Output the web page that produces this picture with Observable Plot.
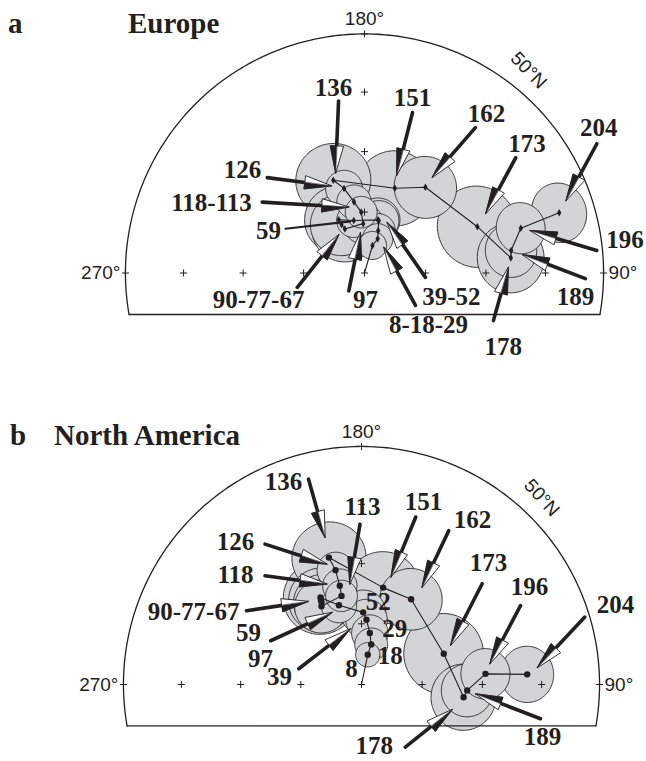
<!DOCTYPE html>
<html><head><meta charset="utf-8">
<script src="https://cdn.jsdelivr.net/npm/d3@7"></script>
<script src="https://cdn.jsdelivr.net/npm/@observablehq/plot@0.6"></script>
<style>
html,body{margin:0;padding:0;background:#fff;}
.panel{position:relative;width:646px;}
.panel svg{display:block;}
.ttl{position:absolute;font-family:"Liberation Serif","Times New Roman",serif;font-weight:bold;font-size:29px;line-height:29px;color:#231f20;white-space:nowrap;z-index:2;}
</style></head><body>
<div class="panel" id="pa"></div>
<div class="panel" id="pb"></div>
<script>
// Pole ages (Ma)
const ages = [0, 8, 18, 29, 39, 52, 59, 67, 77, 90, 97, 113, 118, 126, 136, 151, 162, 173, 178, 189, 196, 204];

// Europe: pole longitude (°E), latitude (°N), A95 (°)
const europeLon = [0, 163.8, 158.9, 162.1, 164.8, 165.8, 191.5, 205.8, 205.4, 204.0, 181.5, 183.1, 188.4, 193.6, 198.6, 160.3, 144.6, 112.3, 95.9, 98.7, 106.0, 107.2];
const europeLat = [90, 85.3, 84.0, 82.7, 81.1, 81.0, 81.2, 80.3, 81.2, 82.1, 81.9, 80.0, 78.2, 75.7, 73.9, 75.2, 72.7, 69.9, 65.7, 65.5, 63.1, 56.1];
const europeA95 = [0, 2.3, 2.5, 2.8, 3.3, 3.6, 2.8, 5.6, 5.1, 5.4, 3.3, 2.6, 2.8, 3.0, 6.1, 6.2, 5.1, 6.6, 5.6, 4.3, 4.1, 4.7];

// North America
const naLon = [0, 168.1, 166.4, 170.8, 175.6, 178.7, 195.9, 205.2, 205.6, 205.9, 207.1, 192.7, 192.4, 192.8, 194.4, 167.4, 149.8, 110.5, 82.9, 86.8, 94.9, 93.5];
const naLat = [90, 85.0, 83.2, 81.4, 79.3, 78.1, 76.4, 74.1, 74.5, 74.9, 75.5, 75.0, 73.3, 70.6, 68.3, 73.6, 73.7, 75.5, 73.0, 72.5, 69.4, 62.4];
const naA95 = [0, 2.0, 2.7, 3.0, 3.4, 3.7, 2.9, 6.1, 5.3, 4.6, 4.4, 2.6, 2.8, 3.0, 6.0, 6.0, 5.1, 6.6, 5.4, 4.3, 4.1, 4.5];

// Arrow annotations (offsets in px from the target pole)
const europeNotes = [
  {text:"136", age:136, tip:[2.3,-7.3], tail:[5.3,-79.3], at:[0.3,-92.3]},
  {text:"151", age:151, tip:[1.7,-12.7], tail:[17.7,-75.7], at:[17.7,-90.7]},
  {text:"162", age:162, tip:[6.8,-10], tail:[50,-59.7], at:[61,-73.7]},
  {text:"173", age:173, tip:[8.2,-13], tail:[38.4,-69], at:[49.7,-83]},
  {text:"204", age:204, tip:[6.7,-12], tail:[37.7,-69], at:[39.7,-85]},
  {text:"196", age:196, tip:[9.3,2.3], tail:[76,22.3], at:[104.3,12.3]},
  {text:"189", age:189, tip:[11.3,4], tail:[74.3,28], at:[64.3,46]},
  {text:"178", age:178, tip:[-2.4,9.4], tail:[-17.4,62.7], at:[-7.7,88.7]},
  {text:"126", age:126, tip:[-12.5,-2.5], tail:[-76.8,-10.8], at:[-101.5,-18.5]},
  {text:"118-113", age:118, tip:[-5.2,5.2], tail:[-91.8,0.2], at:[-142.5,1.5]},
  {text:"59", age:59, tip:[-3.3,1], tail:[-68.3,8.3], at:[-85.3,11], thin:true},
  {text:"90-77-67", age:90, tip:[-6,5.7], tail:[-47.6,58.4], at:[-86.3,70.7]},
  {text:"97", age:97, tip:[-2.7,9], tail:[-14.4,67.3], at:[2.3,76.3]},
  {text:"39-52", age:39, tip:[8.4,1.7], tail:[46.7,56.7], at:[72.7,76]},
  {text:"8-18-29", age:8, tip:[11.3,1.7], tail:[43,60], at:[56,80]}
];
const naNotes = [
  {text:"136", age:136, tip:[-3.9,-20], tail:[-20.4,-78.4], at:[-45.3,-75.7]},
  {text:"113", age:113, tip:[8.2,-11.7], tail:[18.5,-71.7], at:[21,-89]},
  {text:"151", age:151, tip:[7.8,-10.6], tail:[32.6,-70.6], at:[40.3,-85.3]},
  {text:"162", age:162, tip:[10.8,-11.8], tail:[37.6,-68.5], at:[61.3,-79.5]},
  {text:"126", age:126, tip:[-8.6,-6], tail:[-70.5,-26], at:[-100,-28.3]},
  {text:"118", age:118, tip:[-12.9,-1.7], tail:[-74.8,-10], at:[-104.3,-11]},
  {text:"90-77-67", age:90, tip:[-13.1,-0.8], tail:[-75.1,8.5], at:[-128,9.5]},
  {text:"59", age:59, tip:[-6.6,7.2], tail:[-68.3,35.5], at:[-90.3,27.5]},
  {text:"97", age:97, at:[-61,53]},
  {text:"39", age:39, tip:[-16,9], tail:[-67.7,49], at:[-87,57.5]},
  {text:"52", age:52, at:[15,-10]},
  {text:"29", age:29, at:[25,-4]},
  {text:"18", age:18, at:[19,11.5]},
  {text:"8", age:8, at:[-16.3,14.5]},
  {text:"173", age:173, tip:[6.7,-8.3], tail:[38.4,-70], at:[44.7,-90.3]},
  {text:"196", age:196, tip:[4.3,-10], tail:[35,-68.3], at:[44,-87.3]},
  {text:"204", age:204, tip:[10,-6.7], tail:[57.6,-57.3], at:[88.3,-69]},
  {text:"189", age:189, tip:[8.3,3.3], tail:[73.3,28.3], at:[75.3,47]},
  {text:"178", age:178, tip:[-11.3,12.3], tail:[-58.3,50], at:[-89.3,48.3]}
];

const meridianLabels = [
  {lon:180, text:"180°", anchor:"middle"},
  {lon:270, text:"270°", anchor:"end"},
  {lon:90, text:"90°", anchor:"start"}
];
const gridLons = [90, 180, 270];
const gridLats = [50, 60, 70, 80];
const rimLat = 50;

const INK = "#231f20";
const FILL = "#d3d4d6";

function drawPanel(el, o) {
  const proj = d3.geoAzimuthalEqualArea().rotate([0, -90]).scale(o.scale).translate([o.cx, o.cy]).precision(0.05);
  const poles = ages.map((age, i) => ({age, lon: o.lon[i], lat: o.lat[i], a95: o.a95[i]}));
  const byAge = new Map(poles.map(p => [p.age, p]));
  const circles = poles.filter(p => p.a95 > 0)
    .sort((a, b) => b.a95 - a.a95)
    .map(p => d3.geoCircle().center([p.lon, p.lat]).radius(p.a95).precision(2)());
  const ticks = [{lon: 0, lat: 90}, ...gridLons.flatMap(l => gridLats.map(la => ({lon: l, lat: la})))];
  const arcCoords = d3.range(o.cut, 360 - o.cut, 1).map(l => [l, rimLat]);
  arcCoords.push([360 - o.cut, rimLat]);
  const arc = {type: "LineString", coordinates: arcCoords};
  const chord = [{lon: o.cut, lat: rimLat}, {lon: 360 - o.cut, lat: rimLat}];

  const off = (p, v) => { const [x, y] = proj([p.lon, p.lat]); return [x + v[0], y + v[1]]; };
  const ll = (xy, extra) => { const [lon, lat] = proj.invert(xy); return {lon, lat, ...extra}; };
  const HL = 27, HW = 6.5;
  const shafts = [], thin = [], heads = [], halves = [], texts = [];
  o.notes.forEach((n, i) => {
    const p = byAge.get(n.age);
    texts.push(ll(off(p, n.at), {text: n.text}));
    if (!n.tip) return;
    const T = off(p, n.tip), S = off(p, n.tail);
    const dx = T[0] - S[0], dy = T[1] - S[1], L = Math.hypot(dx, dy);
    const u = [dx / L, dy / L], nv = [-u[1], u[0]];
    if (n.thin) { thin.push(ll(S, {id: i}), ll(T, {id: i})); return; }
    const B = [T[0] - HL * u[0], T[1] - HL * u[1]];
    const C1 = [B[0] + HW * nv[0], B[1] + HW * nv[1]];
    const C2 = [B[0] - HW * nv[0], B[1] - HW * nv[1]];
    shafts.push(ll(S, {id: i}), ll([B[0] + u[0] * 2, B[1] + u[1] * 2], {id: i}));
    heads.push(ll(T, {id: i}), ll(C1, {id: i}), ll(C2, {id: i}));
    halves.push(ll(T, {id: i}), ll(C1, {id: i}), ll(B, {id: i}));
  });

  const path = poles.slice().sort((a, b) => a.age - b.age);
  const svg = Plot.plot({
    width: 646, height: o.height, margin: 0,
    projection: proj,
    style: {overflow: "visible", background: "transparent"},
    marks: [
      Plot.geo(circles, {fill: FILL, stroke: INK, strokeWidth: 0.9}),
      Plot.geo([arc], {stroke: INK, strokeWidth: 1.3, fill: "none"}),
      Plot.line(chord, {x: "lon", y: "lat", curve: "linear", stroke: INK, strokeWidth: 1.3}),
      Plot.dot(ticks, {x: "lon", y: "lat", symbol: "plus", r: 2.4, stroke: INK, strokeWidth: 1}),
      Plot.line(path, {x: "lon", y: "lat", curve: "linear", stroke: INK, strokeWidth: 1.1}),
      Plot.dot(poles.filter(p => p.age > 0), {x: "lon", y: "lat", symbol: o.dotSymbol, r: o.dotR, fill: INK, stroke: "none"}),
      Plot.line(thin, {x: "lon", y: "lat", z: "id", curve: "linear", stroke: INK, strokeWidth: 2.2}),
      Plot.line(shafts, {x: "lon", y: "lat", z: "id", curve: "linear", stroke: INK, strokeWidth: 3.6}),
      Plot.line(heads, {x: "lon", y: "lat", z: "id", curve: "linear-closed", fill: "white", stroke: INK, strokeWidth: 0.9}),
      Plot.line(halves, {x: "lon", y: "lat", z: "id", curve: "linear-closed", fill: INK, stroke: INK, strokeWidth: 0.6}),
      Plot.text(texts, {x: "lon", y: "lat", text: "text", fontFamily: "Liberation Serif", fontWeight: "bold", fontSize: 25, fill: INK}),
      ...meridianLabels.map(m => Plot.text([m], {x: "lon", y: () => rimLat, text: "text", textAnchor: m.anchor,
        dx: m.anchor === "end" ? -5 : m.anchor === "start" ? 5 : 0, dy: m.anchor === "middle" ? -15 : 0,
        fontFamily: "Liberation Sans", fontSize: 19, fill: INK})),
      Plot.text([{lon: o.label50[0], lat: o.label50[1], text: "50°N"}], {x: "lon", y: "lat", text: "text", rotate: o.label50[2],
        fontFamily: "Liberation Sans", fontSize: 19, fill: INK})
    ]
  });
  el.appendChild(svg);
  el.style.height = o.height + "px";
  o.titles.forEach(t => {
    const s = document.createElement("span");
    s.className = "ttl"; s.textContent = t.text;
    s.style.left = t.left + "px"; s.style.top = t.top + "px";
    el.appendChild(s);
  });
}

drawPanel(document.getElementById("pa"), {
  lon: europeLon, lat: europeLat, a95: europeA95, notes: europeNotes,
  cx: 364, cy: 272.5, scale: 349.5, cut: 80, height: 380,
  dotSymbol: "diamond", dotR: 2.3,
  label50: [141, 46.2, 46],
  titles: [{text: "a", left: 8, top: 9}, {text: "Europe", left: 128, top: 9}]
});
drawPanel(document.getElementById("pb"), {
  lon: naLon, lat: naLat, a95: naA95, notes: naNotes,
  cx: 361, cy: 304, scale: 348, cut: 80, height: 381,
  dotSymbol: "circle", dotR: 3.2,
  label50: [136, 46.2, 48],
  titles: [{text: "b", left: 10, top: 41}, {text: "North America", left: 54, top: 41}]
});
</script>
</body></html>
